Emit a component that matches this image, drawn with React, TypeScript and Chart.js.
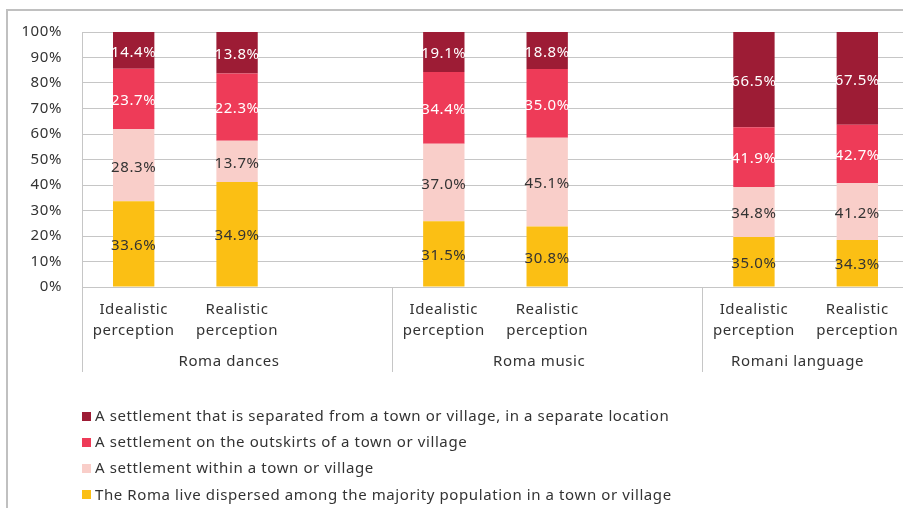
import React, { useEffect, useRef } from "react";
import { Chart, registerables } from "chart.js";

Chart.register(...registerables);

const categories: (string | string[])[] = [
  ["Idealistic", "perception"],
  ["Realistic", "perception"],
  "",
  ["Idealistic", "perception"],
  ["Realistic", "perception"],
  "",
  ["Idealistic", "perception"],
  ["Realistic", "perception"],
];

const groups = ["Roma dances", "Roma music", "Romani language"];
const groupSpans = [[0, 2], [3, 5], [6, 7]];

const seriesNames = [
  "The Roma live dispersed among the majority population in a town or village",
  "A settlement within a town or village",
  "A settlement on the outskirts of a town or village",
  "A settlement that is separated from a town or village, in a separate location",
];

const dispersed = [33.6, 34.9, null, 31.5, 30.8, null, 35.0, 34.3];
const within = [28.3, 13.7, null, 37.0, 45.1, null, 34.8, 41.2];
const outskirts = [23.7, 22.3, null, 34.4, 35.0, null, 41.9, 42.7];
const separated = [14.4, 13.8, null, 19.1, 18.8, null, 66.5, 67.5];

const colors = ["#FBBF14", "#F9CEC9", "#EE3B58", "#9D1C35"];
const labelColors = ["#333333", "#333333", "#ffffff", "#ffffff"];

const yTicks = [0, 10, 20, 30, 40, 50, 60, 70, 80, 90, 100];

const FONT = "'Noto Sans', sans-serif";
const TEXT = "#333333";
const LINE = "#c6c6c6";

const raw = [dispersed, within, outskirts, separated];
const totals = categories.map((_, i) =>
  raw.reduce((s, arr) => s + (arr[i] ?? 0), 0)
);
const normalized = raw.map((arr) =>
  arr.map((v, i) => (v == null ? null : (v / totals[i]) * 100))
);

const overlayPlugin = {
  id: "overlay",
  beforeDraw(chart: any) {
    const ctx = chart.ctx;
    ctx.letterSpacing = "0.6px";
    ctx.save();
    ctx.strokeStyle = "#c0c0c0";
    ctx.lineWidth = 2;
    ctx.strokeRect(7, 10, 1000, 1000);
    ctx.restore();
  },
  afterDraw(chart: any) {
    const ctx = chart.ctx;
    const x = chart.scales.x;
    const area = chart.chartArea;
    const slot = (x.getPixelForValue(1) - x.getPixelForValue(0));
    ctx.save();
    ctx.letterSpacing = "0.6px";
    // vertical separators below axis
    ctx.strokeStyle = LINE;
    ctx.lineWidth = 1;
    const bounds: number[] = [area.left];
    groupSpans.forEach(([a, b]) => {
      bounds.push(x.getPixelForValue(b) + slot / 2);
    });
    bounds.forEach((bx) => {
      const px = Math.round(bx) + 0.5;
      ctx.beginPath();
      ctx.moveTo(px, area.bottom);
      ctx.lineTo(px, 372);
      ctx.stroke();
    });
    // group labels
    ctx.fillStyle = TEXT;
    ctx.font = `15px ${FONT}`;
    ctx.textAlign = "center";
    ctx.textBaseline = "middle";
    groupSpans.forEach(([a, b], gi) => {
      const l = x.getPixelForValue(a) - slot / 2;
      const r = Math.min(x.getPixelForValue(b) + slot / 2, area.right);
      ctx.fillText(groups[gi], (l + r) / 2 - 8, 362);
    });
    // data labels
    ctx.font = `15px ${FONT}`;
    chart.data.datasets.forEach((ds: any, di: number) => {
      const meta = chart.getDatasetMeta(di);
      meta.data.forEach((bar: any, i: number) => {
        const v = raw[di][i];
        if (v == null) return;
        const cy = (bar.y + bar.base) / 2;
        ctx.fillStyle = labelColors[di];
        ctx.fillText(v.toFixed(1) + "%", bar.x, cy + 2);
      });
    });
    // legend
    ctx.textAlign = "left";
    const rows = [3, 2, 1, 0];
    rows.forEach((di, r) => {
      const cy = 416.5 + r * 26.3;
      ctx.fillStyle = colors[di];
      ctx.fillRect(82, Math.round(cy - 5), 9, 9);
      ctx.fillStyle = TEXT;
      ctx.fillText(seriesNames[di], 95, cy);
    });
    ctx.restore();
  },
};

export default function App() {
  const ref = useRef<HTMLCanvasElement | null>(null);
  useEffect(() => {
    if (!ref.current) return;
    const chart = new Chart(ref.current, {
      type: "bar",
      data: {
        labels: categories,
        datasets: normalized.map((d, i) => ({
          label: seriesNames[i],
          data: d,
          backgroundColor: colors[i],
          borderWidth: 0,
          categoryPercentage: 0.8,
          barPercentage: 0.5,
        })),
      },
      options: {
        animation: false,
        responsive: false,
        maintainAspectRatio: false,
        layout: { padding: { top: 32, right: 11, left: 0, bottom: 0 } },
        plugins: {
          legend: { display: false },
          tooltip: { enabled: false },
        },
        scales: {
          x: {
            stacked: true,
            grid: { display: false, drawTicks: false },
            border: { display: false },
            ticks: {
              color: TEXT,
              font: { family: FONT, size: 15, lineHeight: 1.4 },
              padding: 12,
              maxRotation: 0,
              autoSkip: false,
            },
            afterFit: (s: any) => {
              s.height = 221;
            },
          },
          y: {
            stacked: true,
            min: 0,
            max: 100,
            afterBuildTicks: (s: any) => {
              s.ticks = yTicks.map((v) => ({ value: v }));
            },
            grid: { color: LINE, lineWidth: 1, drawTicks: false },
            border: { display: true, color: LINE, width: 1 },
            ticks: {
              color: TEXT,
              font: { family: FONT, size: 15 },
              padding: 20,
              callback: (v: any) => v + "%",
            },
            afterFit: (s: any) => {
              s.width = 82;
            },
          },
        },
      },
      plugins: [overlayPlugin],
    });
    return () => chart.destroy();
  }, []);
  return (
    <div
      style={{
        position: "fixed",
        left: 0,
        top: 0,
        width: 903,
        height: 508,
        overflow: "hidden",
        background: "#fff",
      }}
    >
      <canvas
        ref={ref}
        width={920}
        height={508}
        style={{ position: "absolute", left: 0, top: 0, width: 920, height: 508 }}
      />
    </div>
  );
}
